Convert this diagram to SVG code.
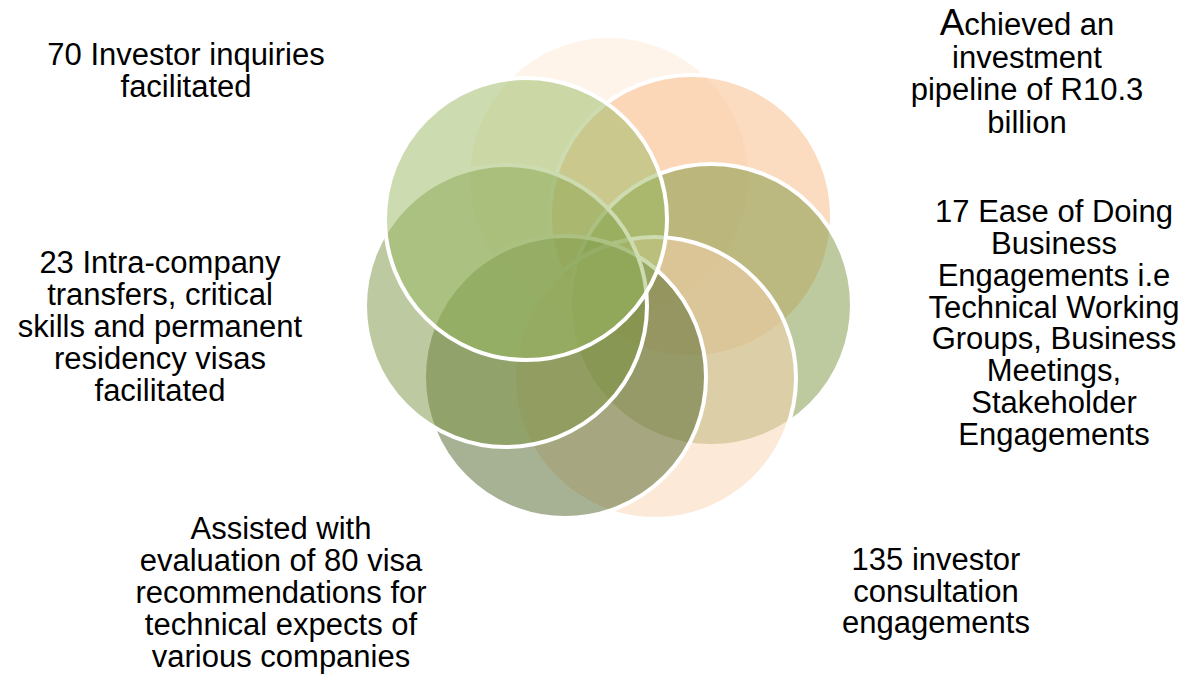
<svg xmlns="http://www.w3.org/2000/svg" width="1186" height="678" viewBox="0 0 1186 678">
<style>
.c{stroke:#ffffff;stroke-width:4;fill-opacity:0.5}
.t{font-family:"Liberation Sans",Arial,sans-serif;font-size:31px;fill:#000000;text-anchor:middle}
</style>
<rect width="1186" height="678" fill="#ffffff"/>
<g id="circles">
<g id="node1"><circle class="c" cx="609" cy="177" r="141" fill="#FDE9D5"/></g>
<g id="node2"><circle class="c" cx="691" cy="216" r="141" fill="#F7B983"/></g>
<g id="node3"><circle class="c" cx="711" cy="305" r="141" fill="#7B953F"/></g>
<g id="node4"><circle class="c" cx="655" cy="378" r="141" fill="#FBD4B2"/></g>
<g id="node5"><circle class="c" cx="565" cy="377" r="141" fill="#4F6529"/></g>
<g id="node6"><circle class="c" cx="506" cy="306" r="141" fill="#7B9341"/></g>
<g id="node7"><circle class="c" cx="526" cy="219" r="141" fill="#99B961"/></g>
</g>
<g id="label1" class="t">
<text x="186" y="65">70 Investor inquiries</text>
<text x="186" y="97">facilitated</text>
</g>
<g id="label2" class="t">
<text x="1027" y="35"><tspan font-size="37">A</tspan>chieved an</text>
<text x="1027" y="68">investment</text>
<text x="1027" y="100">pipeline of R10.3</text>
<text x="1027" y="133">billion</text>
</g>
<g id="label3" class="t">
<text x="1054" y="222">17 Ease of Doing</text>
<text x="1054" y="254">Business</text>
<text x="1054" y="286">Engagements i.e</text>
<text x="1054" y="318">Technical Working</text>
<text x="1054" y="349">Groups, Business</text>
<text x="1054" y="381">Meetings,</text>
<text x="1054" y="413">Stakeholder</text>
<text x="1054" y="445">Engagements</text>
</g>
<g id="label4" class="t">
<text x="936" y="570">135 investor</text>
<text x="936" y="602">consultation</text>
<text x="936" y="633">engagements</text>
</g>
<g id="label5" class="t">
<text x="281" y="539">Assisted with</text>
<text x="281" y="571">evaluation of 80 visa</text>
<text x="281" y="603">recommendations for</text>
<text x="281" y="635">technical expects of</text>
<text x="281" y="667">various companies</text>
</g>
<g id="label6" class="t">
<text x="160" y="273">23 Intra-company</text>
<text x="160" y="305">transfers, critical</text>
<text x="160" y="337">skills and permanent</text>
<text x="160" y="369">residency visas</text>
<text x="160" y="401">facilitated</text>
</g>
</svg>
